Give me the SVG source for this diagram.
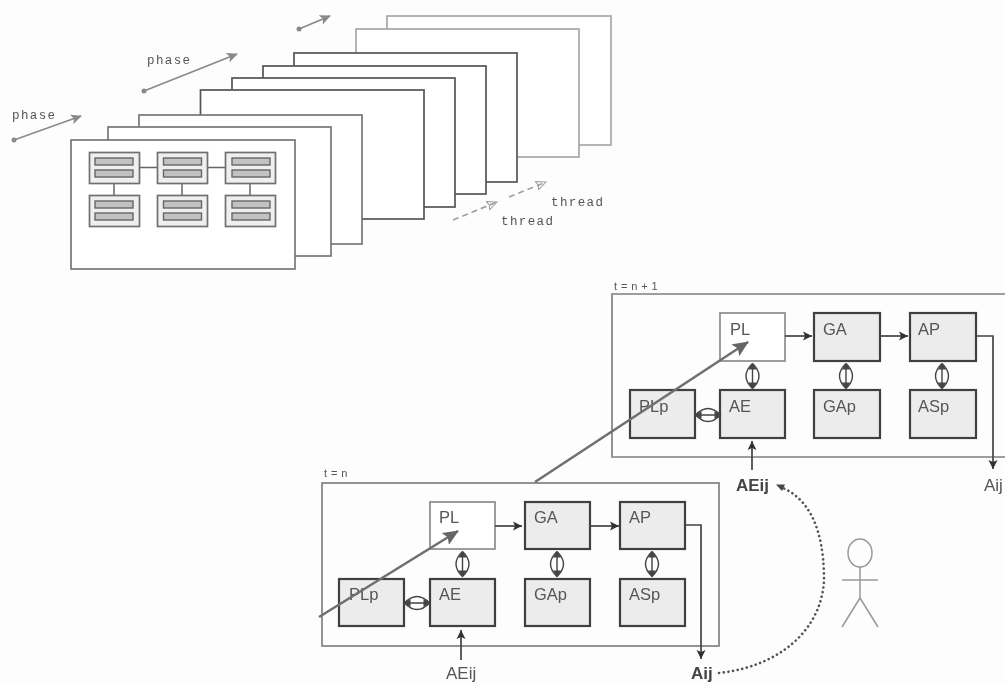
<svg xmlns="http://www.w3.org/2000/svg" width="1005" height="684" viewBox="0 0 1005 684">
<style>
.fd{fill:#fff;stroke:#555;stroke-width:1.7}
.fm{fill:#fff;stroke:#6e6e6e;stroke-width:1.6}
.fl{fill:#fff;stroke:#a2a2a2;stroke-width:1.6}
.cell{fill:#efefef;stroke:#707070;stroke-width:1.7}
.bar{fill:#c2c2c2;stroke:#666;stroke-width:1.4}
.link{stroke:#666;stroke-width:1.5;fill:none}
.frame{fill:none;stroke:#808080;stroke-width:1.7}
.b{fill:#ececec;stroke:#404040;stroke-width:2.2}
.pl{fill:#fff;stroke:#8c8c8c;stroke-width:1.7}
.t{font-family:"Liberation Sans",Arial,sans-serif;font-size:16.5px;fill:#555}
.tb{font-family:"Liberation Sans",Arial,sans-serif;font-size:17px;fill:#444;font-weight:bold}
.tr{font-family:"Liberation Sans",Arial,sans-serif;font-size:17px;fill:#555}
.ts{font-family:"Liberation Sans",Arial,sans-serif;font-size:11px;fill:#555;letter-spacing:.4px}
.m{font-family:"Liberation Mono",monospace;font-size:12.500px;fill:#555;letter-spacing:1.4px}
.thin{stroke:#8a8a8a;stroke-width:1.7;fill:none}
.dash{stroke:#a0a0a0;stroke-width:1.7;fill:none;stroke-dasharray:6 4}
.c{stroke:#444;stroke-width:1.7;fill:none}
.big{stroke:#707070;stroke-width:2.6;fill:none}
.dbl{stroke:#444;stroke-width:1.4;fill:none}
.dot{stroke:#555;stroke-width:2.6;fill:none;stroke-dasharray:0.1 4.6;stroke-linecap:round}
.actor{stroke:#999;stroke-width:1.5;fill:none}
</style>
<defs>
<filter id="soft" x="-5%" y="-5%" width="110%" height="110%"><feGaussianBlur stdDeviation="0.6"/></filter>
<marker id="ah" markerWidth="12" markerHeight="10" refX="10" refY="5" orient="auto" markerUnits="userSpaceOnUse"><path d="M0 0L11 5L0 10L2.500 5Z" fill="#8a8a8a"/></marker>
<marker id="ad" markerWidth="12" markerHeight="10" refX="10" refY="5" orient="auto" markerUnits="userSpaceOnUse"><path d="M0 0.500L10 5L0 9.500L2 5Z" fill="none" stroke="#a0a0a0"/></marker>
<marker id="ac" markerWidth="10" markerHeight="10" refX="9" refY="5" orient="auto" markerUnits="userSpaceOnUse"><path d="M0 0.500L9 5L0 9.500L2 5Z" fill="#333"/></marker>
<marker id="ab" markerWidth="17" markerHeight="14" refX="15" refY="7" orient="auto" markerUnits="userSpaceOnUse"><path d="M0 0L16 7L0 14L3 7Z" fill="#666"/></marker>
<g id="dv"><path class="dbl" d="M0 -12.500Q-13 0 0 12.500Q13 0 0 -12.500M0 -12.500V12.500"/><path d="M0 -13L-4 -6.500H4ZM0 13L-4 6.500H4Z" fill="#444"/></g>
<g id="dh"><path class="dbl" d="M-12.500 0Q0 -13 12.500 0Q0 13 -12.500 0M-12.500 0H12.500"/><path d="M-13 0L-6.500 -4V4ZM13 0L6.500 -4V4Z" fill="#444"/></g>
</defs>
<rect width="1005" height="684" fill="#fdfdfd"/>
<g filter="url(#soft)">
<g id="phase-stack">
<rect id="frame-8" class="fl" x="387" y="16" width="224" height="129"/>
<rect id="frame-7" class="fl" x="356" y="29" width="223" height="128"/>
<rect id="frame-6" class="fd" x="294" y="53" width="223" height="129"/>
<rect id="frame-5" class="fd" x="263" y="66" width="223" height="128"/>
<rect id="frame-4" class="fd" x="232" y="78" width="223" height="129"/>
<rect id="frame-3" class="fd" x="200.500" y="90" width="223.500" height="129"/>
<rect id="frame-2" class="fm" x="139" y="115" width="223" height="129"/>
<rect id="frame-1" class="fm" x="108" y="127" width="223" height="129"/>
<rect id="frame-0" class="fm" x="71" y="140" width="224" height="129"/>
</g>
<g id="threads-grid">
<path class="link" d="M139 167.500H157M207 167.500H225M114 183V195M182 183V195M250 183V195"/>
<g id="cell-11"><rect class="cell" x="89.500" y="152.500" width="50" height="31"/><rect class="bar" x="95" y="158" width="38" height="7"/><rect class="bar" x="95" y="170" width="38" height="7"/></g>
<g id="cell-12"><rect class="cell" x="157.500" y="152.500" width="50" height="31"/><rect class="bar" x="163.500" y="158" width="38" height="7"/><rect class="bar" x="163.500" y="170" width="38" height="7"/></g>
<g id="cell-13"><rect class="cell" x="225.500" y="152.500" width="50" height="31"/><rect class="bar" x="232" y="158" width="38" height="7"/><rect class="bar" x="232" y="170" width="38" height="7"/></g>
<g id="cell-21"><rect class="cell" x="89.500" y="195.500" width="50" height="31"/><rect class="bar" x="95" y="201" width="38" height="7"/><rect class="bar" x="95" y="213" width="38" height="7"/></g>
<g id="cell-22"><rect class="cell" x="157.500" y="195.500" width="50" height="31"/><rect class="bar" x="163.500" y="201" width="38" height="7"/><rect class="bar" x="163.500" y="213" width="38" height="7"/></g>
<g id="cell-23"><rect class="cell" x="225.500" y="195.500" width="50" height="31"/><rect class="bar" x="232" y="201" width="38" height="7"/><rect class="bar" x="232" y="213" width="38" height="7"/></g>
</g>
<g id="stack-labels">
<text class="m" x="12" y="119">phase</text>
<text class="m" x="147" y="64">phase</text>
<text class="m" x="501" y="225">thread</text>
<text class="m" x="551" y="206">thread</text>
</g>
<g id="stack-arrows">
<circle cx="14" cy="140" r="2.500" fill="#8a8a8a"/><path class="thin" d="M14 140L81 116" marker-end="url(#ah)"/>
<circle cx="144" cy="91" r="2.500" fill="#8a8a8a"/><path class="thin" d="M144 91L237 54" marker-end="url(#ah)"/>
<circle cx="299" cy="29" r="2.500" fill="#8a8a8a"/><path class="thin" d="M299 29L330 16" marker-end="url(#ah)"/>
<path class="dash" d="M453 220L497 202" marker-end="url(#ad)"/>
<path class="dash" d="M509 197L546 182" marker-end="url(#ad)"/>
</g>
<g id="state-n">
<rect id="frame-n" class="frame" x="322" y="483" width="397" height="163"/>
<text class="ts" x="324" y="477">t = n</text>
<g id="n-PL"><rect class="pl" x="430" y="502" width="65" height="47"/><text class="t" x="439" y="523">PL</text></g>
<g id="n-GA"><rect class="b" x="525" y="502" width="65" height="47"/><text class="t" x="534" y="523">GA</text></g>
<g id="n-AP"><rect class="b" x="620" y="502" width="65" height="47"/><text class="t" x="629" y="523">AP</text></g>
<g id="n-PLp"><rect class="b" x="339" y="579" width="65" height="47"/><text class="t" x="349" y="600">PLp</text></g>
<g id="n-AE"><rect class="b" x="430" y="579" width="65" height="47"/><text class="t" x="439" y="600">AE</text></g>
<g id="n-GAp"><rect class="b" x="525" y="579" width="65" height="47"/><text class="t" x="534" y="600">GAp</text></g>
<g id="n-ASp"><rect class="b" x="620" y="579" width="65" height="47"/><text class="t" x="629" y="600">ASp</text></g>
</g>
<g id="state-n1">
<path class="frame" d="M1005 294H612V457H1005"/>
<text class="ts" x="614" y="290">t = n + 1</text>
<g id="n1-PL"><rect class="pl" x="720" y="313" width="65" height="48"/><text class="t" x="730" y="335">PL</text></g>
<g id="n1-GA"><rect class="b" x="814" y="313" width="66" height="48"/><text class="t" x="823" y="335">GA</text></g>
<g id="n1-AP"><rect class="b" x="910" y="313" width="66" height="48"/><text class="t" x="918" y="335">AP</text></g>
<g id="n1-PLp"><rect class="b" x="630" y="390" width="65" height="48"/><text class="t" x="639" y="412">PLp</text></g>
<g id="n1-AE"><rect class="b" x="720" y="390" width="65" height="48"/><text class="t" x="729" y="412">AE</text></g>
<g id="n1-GAp"><rect class="b" x="814" y="390" width="66" height="48"/><text class="t" x="823" y="412">GAp</text></g>
<g id="n1-ASp"><rect class="b" x="910" y="390" width="66" height="48"/><text class="t" x="918" y="412">ASp</text></g>
</g>
<g id="io-labels">
<text class="tr" x="446" y="679">AEij</text>
<text class="tb" x="691" y="679">Aij</text>
<text class="tb" x="736" y="491">AEij</text>
<text class="tr" x="984" y="491">Aij</text>
</g>
<g id="connectors">
<path class="c" d="M495 526H522" marker-end="url(#ac)"/>
<path class="c" d="M590 526H619" marker-end="url(#ac)"/>
<path class="c" d="M685 525H701V659" marker-end="url(#ac)"/>
<path class="c" d="M461 660V630" marker-end="url(#ac)"/>
<use href="#dv" x="462.500" y="564"/>
<use href="#dv" x="557" y="564"/>
<use href="#dv" x="652" y="564"/>
<use href="#dh" x="417" y="603"/>
<path class="c" d="M785 336H812" marker-end="url(#ac)"/>
<path class="c" d="M880 336H908" marker-end="url(#ac)"/>
<path class="c" d="M976 336H993V469" marker-end="url(#ac)"/>
<path class="c" d="M752 470V441" marker-end="url(#ac)"/>
<use href="#dv" x="752.500" y="376"/>
<use href="#dv" x="846" y="376"/>
<use href="#dv" x="942" y="376"/>
<use href="#dh" x="708" y="415"/>
<path class="big" d="M319 617L458 531" marker-end="url(#ab)"/>
<path class="big" d="M535 482L748 342" marker-end="url(#ab)"/>
<path class="dot" d="M719 673C790 665 825 620 824 575C823 530 810 500 783 488"/>
<path d="M776 484.500L785 484.500L782 491Z" fill="#444"/>
</g>
<g id="actor">
<ellipse class="actor" cx="860" cy="553" rx="12" ry="14"/>
<path class="actor" d="M860 567V598M842 580H878M860 598L842 627M860 598L878 627"/>
</g>
</g>
</svg>
